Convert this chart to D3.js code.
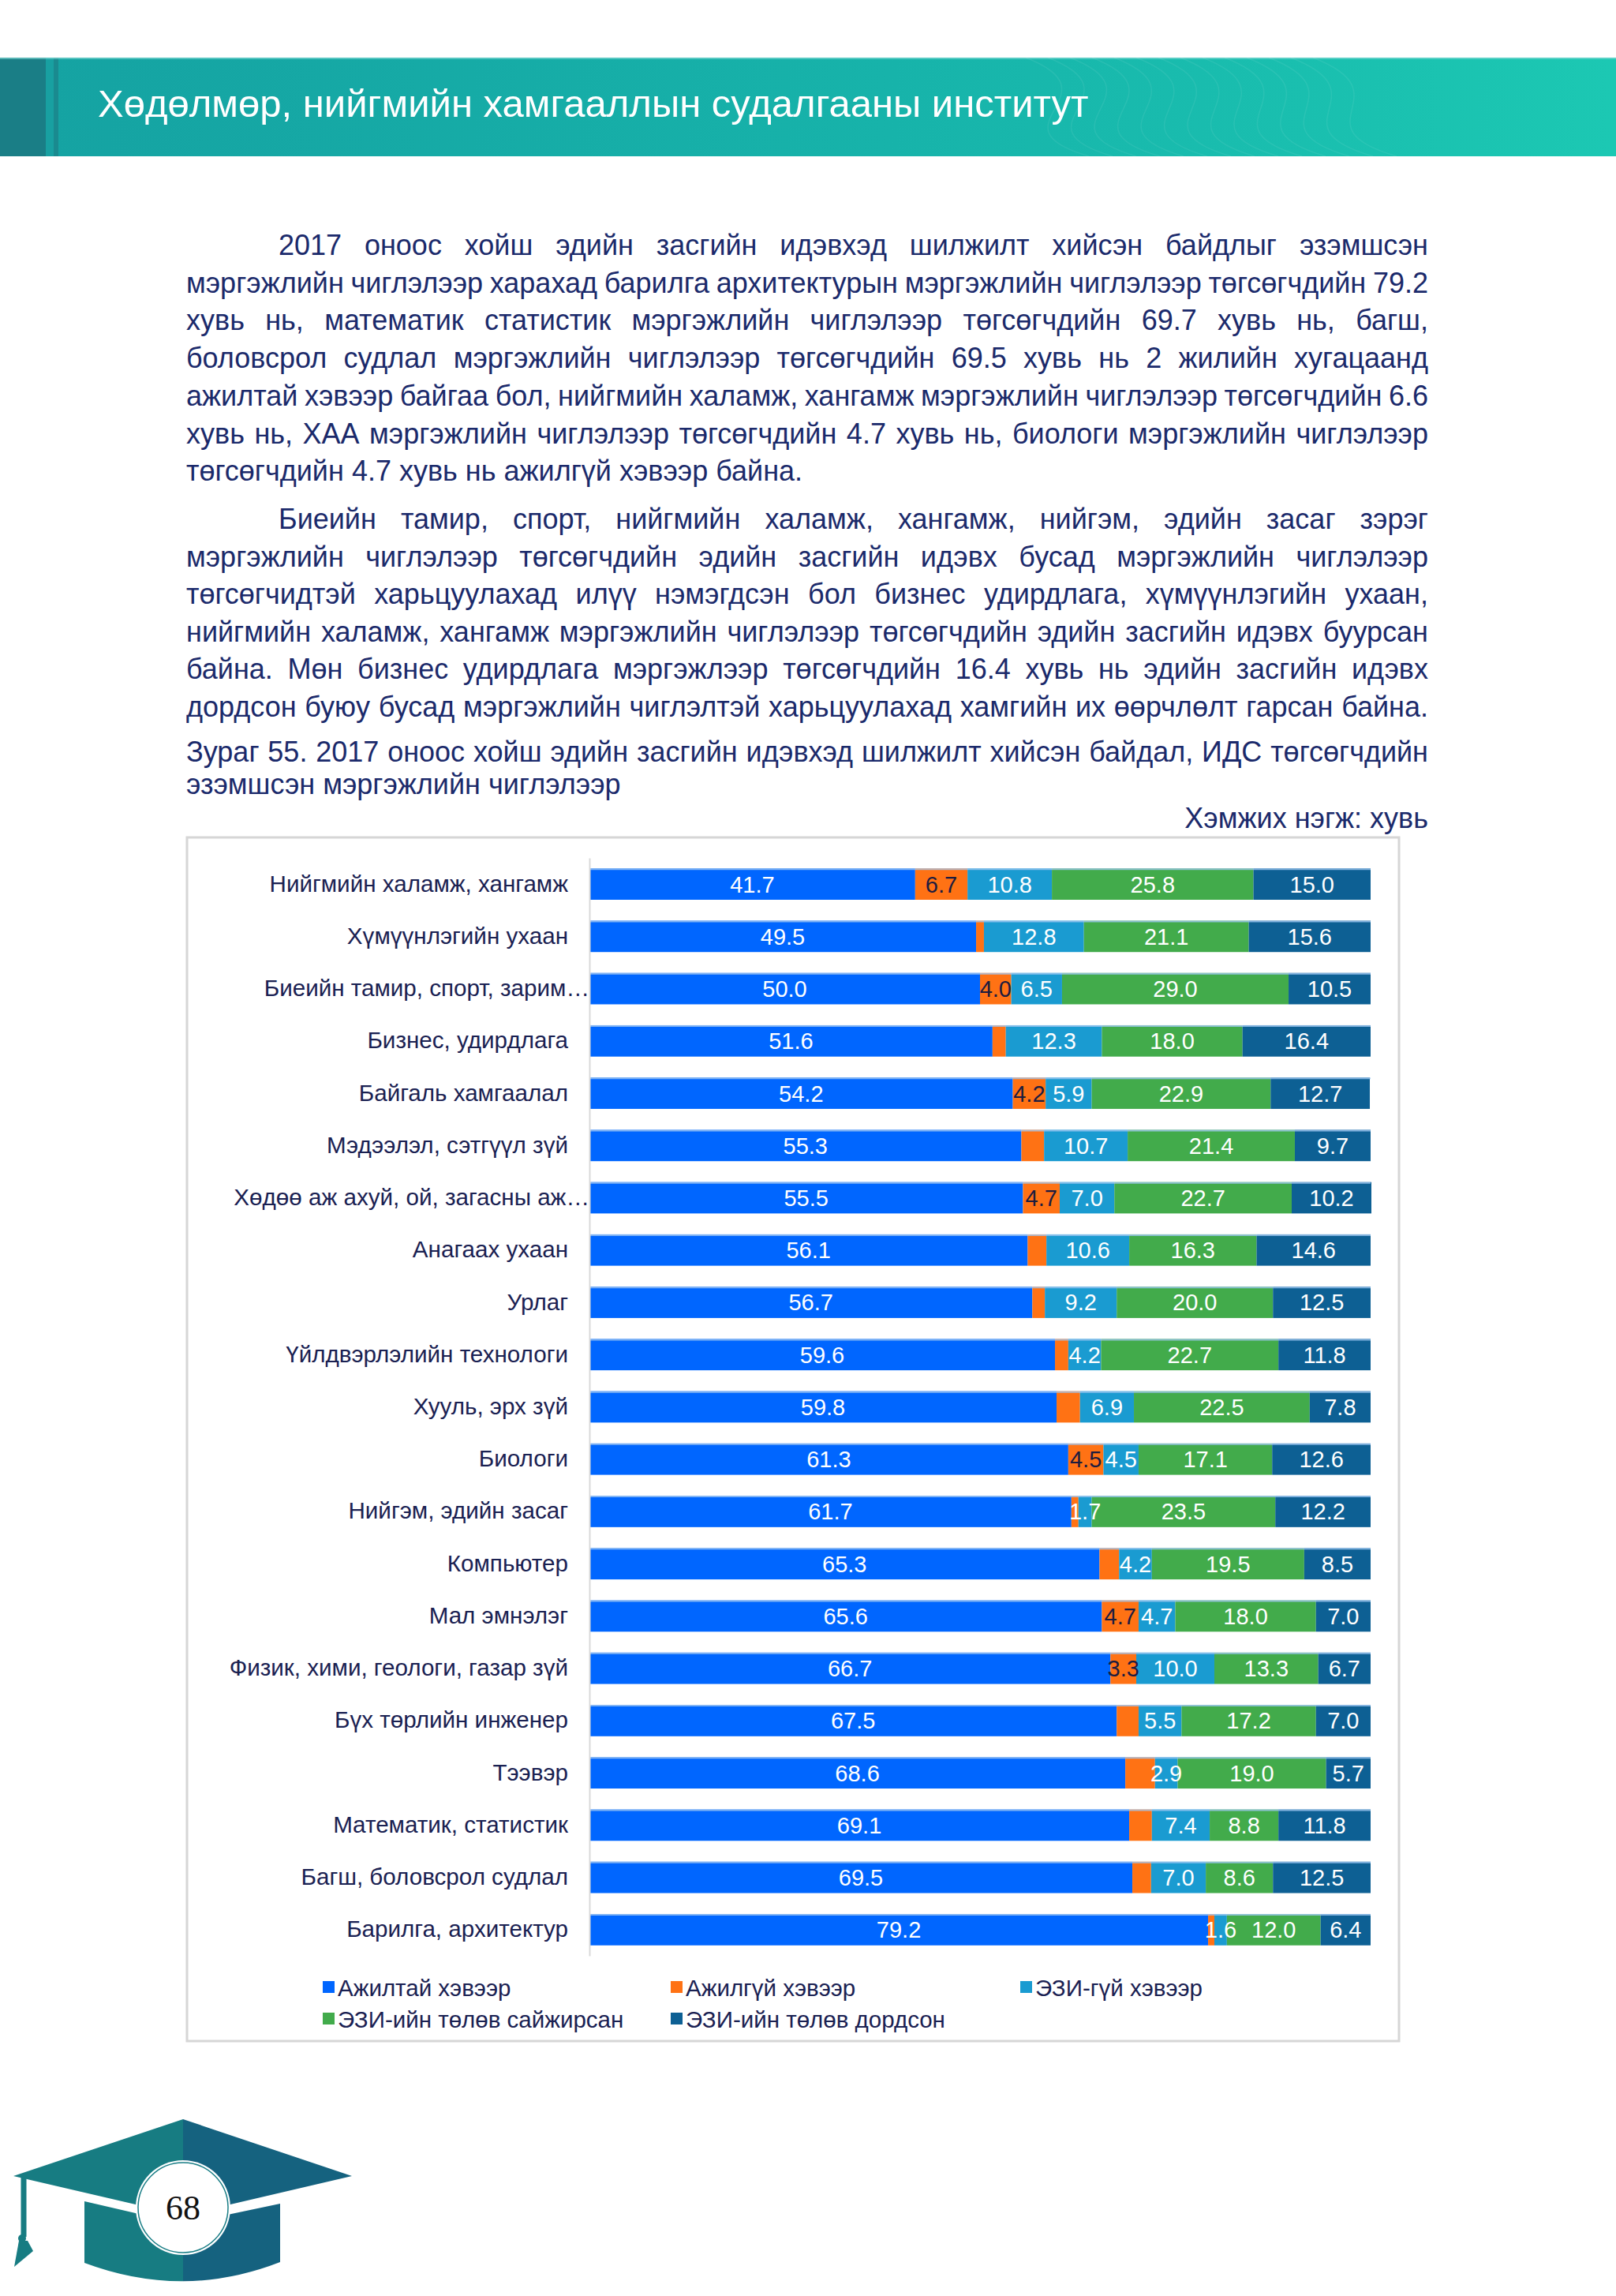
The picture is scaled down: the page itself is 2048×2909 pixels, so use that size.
<!DOCTYPE html>
<html>
<head>
<meta charset="utf-8">
<script src="https://cdn.jsdelivr.net/npm/d3@7"></script>
<style>
  body { margin: 0; background: #fff; }
  svg { display: block; font-family: "Liberation Sans", Arial, sans-serif; }
</style>
</head>
<body>
<svg id="page"></svg>
<script>
// Data
var categories = [
  "Нийгмийн халамж, хангамж", "Хүмүүнлэгийн ухаан", "Биеийн тамир, спорт, зарим…",
  "Бизнес, удирдлага", "Байгаль хамгаалал", "Мэдээлэл, сэтгүүл зүй",
  "Хөдөө аж ахуй, ой, загасны аж…", "Анагаах ухаан", "Урлаг",
  "Үйлдвэрлэлийн технологи", "Хууль, эрх зүй", "Биологи", "Нийгэм, эдийн засаг",
  "Компьютер", "Мал эмнэлэг", "Физик, хими, геологи, газар зүй",
  "Бүх төрлийн инженер", "Тээвэр", "Математик, статистик",
  "Багш, боловсрол судлал", "Барилга, архитектур"
];
var ajiltai   = [41.7, 49.5, 50.0, 51.6, 54.2, 55.3, 55.5, 56.1, 56.7, 59.6, 59.8, 61.3, 61.7, 65.3, 65.6, 66.7, 67.5, 68.6, 69.1, 69.5, 79.2];
var ajilgui   = [6.7, 1.0, 4.0, 1.7, 4.2, 2.9, 4.7, 2.4, 1.6, 1.7, 3.0, 4.5, 0.9, 2.5, 4.7, 3.3, 2.8, 3.8, 2.9, 2.4, 0.8];
var ajilguiLabeled = [true, false, true, false, true, false, true, false, false, false, false, true, false, false, true, true, false, false, false, false, false];
var ezigui    = [10.8, 12.8, 6.5, 12.3, 5.9, 10.7, 7.0, 10.6, 9.2, 4.2, 6.9, 4.5, 1.7, 4.2, 4.7, 10.0, 5.5, 2.9, 7.4, 7.0, 1.6];
var saijirsan = [25.8, 21.1, 29.0, 18.0, 22.9, 21.4, 22.7, 16.3, 20.0, 22.7, 22.5, 17.1, 23.5, 19.5, 18.0, 13.3, 17.2, 19.0, 8.8, 8.6, 12.0];
var dordson   = [15.0, 15.6, 10.5, 16.4, 12.7, 9.7, 10.2, 14.6, 12.5, 11.8, 7.8, 12.6, 12.2, 8.5, 7.0, 6.7, 7.0, 5.7, 11.8, 12.5, 6.4];

var seriesKeys = ["ajiltai", "ajilgui", "ezigui", "saijirsan", "dordson"];
var seriesNames = ["Ажилтай хэвээр", "Ажилгүй хэвээр", "ЭЗИ-гүй хэвээр", "ЭЗИ-ийн төлөв сайжирсан", "ЭЗИ-ийн төлөв дордсон"];
var seriesColors = ["#0066ff", "#ff7214", "#1a9bd1", "#42ab4b", "#0d6094"];

var para1 = [
  "2017 оноос хойш эдийн засгийн идэвхэд шилжилт хийсэн байдлыг эзэмшсэн",
  "мэргэжлийн чиглэлээр харахад барилга архитектурын мэргэжлийн чиглэлээр төгсөгчдийн 79.2",
  "хувь нь, математик статистик мэргэжлийн чиглэлээр төгсөгчдийн 69.7 хувь нь, багш,",
  "боловсрол судлал мэргэжлийн чиглэлээр төгсөгчдийн 69.5 хувь нь 2 жилийн хугацаанд",
  "ажилтай хэвээр байгаа бол, нийгмийн халамж, хангамж мэргэжлийн чиглэлээр төгсөгчдийн 6.6",
  "хувь нь, ХАА мэргэжлийн чиглэлээр төгсөгчдийн 4.7 хувь нь, биологи мэргэжлийн чиглэлээр",
  "төгсөгчдийн 4.7 хувь нь ажилгүй хэвээр байна."
];
var para2 = [
  "Биеийн тамир, спорт, нийгмийн халамж, хангамж, нийгэм, эдийн засаг зэрэг",
  "мэргэжлийн чиглэлээр төгсөгчдийн эдийн засгийн идэвх бусад мэргэжлийн чиглэлээр",
  "төгсөгчидтэй харьцуулахад илүү нэмэгдсэн бол бизнес удирдлага, хүмүүнлэгийн ухаан,",
  "нийгмийн халамж, хангамж мэргэжлийн чиглэлээр төгсөгчдийн эдийн засгийн идэвх буурсан",
  "байна. Мөн бизнес удирдлага мэргэжлээр төгсөгчдийн 16.4 хувь нь эдийн засгийн идэвх",
  "дордсон буюу бусад мэргэжлийн чиглэлтэй харьцуулахад хамгийн их өөрчлөлт гарсан байна."
];
var caption = [
  "Зураг 55. 2017 оноос хойш эдийн засгийн идэвхэд шилжилт хийсэн байдал, ИДС төгсөгчдийн",
  "эзэмшсэн мэргэжлийн чиглэлээр"
];
var unitLabel = "Хэмжих нэгж: хувь";
var headerTitle = "Хөдөлмөр, нийгмийн хамгааллын судалгааны институт";
var pageNumber = "68";

// Setup
var W = 2048, H = 2909;
var textColor = "#1b2a6b",
    labelColor = "#1a2152";

var svg = d3.select("#page").attr("width", W).attr("height", H);
svg.append("rect").attr("width", W).attr("height", H).attr("fill", "#fff");

var defs = svg.append("defs");
var grad = defs.append("linearGradient").attr("id", "hdr").attr("x1", "0").attr("x2", "1");
grad.append("stop").attr("offset", "0").attr("stop-color", "#15a2a2");
grad.append("stop").attr("offset", "0.55").attr("stop-color", "#17b3aa");
grad.append("stop").attr("offset", "1").attr("stop-color", "#1cc8b3");

// Header band
var header = svg.append("g");
header.append("rect").attr("x", 0).attr("y", 73).attr("width", W).attr("height", 125).attr("fill", "url(#hdr)");
header.append("rect").attr("x", 0).attr("y", 73).attr("width", 58).attr("height", 125).attr("fill", "#1a7e86");
header.append("rect").attr("x", 58).attr("y", 73).attr("width", 10).attr("height", 125).attr("fill", "#18a0a1");
header.append("rect").attr("x", 68).attr("y", 73).attr("width", 6).attr("height", 125).attr("fill", "#1a8a8f");
header.append("line").attr("x1", 0).attr("x2", W).attr("y1", 74).attr("y2", 74)
    .attr("stroke", "#7fd8d3").attr("stroke-width", 2).attr("opacity", 0.6);
// faint wave lines in the band
for (var k = 0; k < 14; k++) {
  header.append("path")
      .attr("d", "M" + (1300 + k * 28) + ",73 C" + (1420 + k * 28) + ",120 " + (1250 + k * 30) + ",160 " + (1380 + k * 30) + ",198")
      .attr("fill", "none").attr("stroke", "#ffffff").attr("stroke-opacity", 0.07).attr("stroke-width", 1.5);
}
header.append("text").attr("x", 124).attr("y", 148)
    .attr("fill", "#fff").attr("font-size", 49)
    .text(headerTitle);

// Justified paragraph lines
function drawLine(str, x0, x1, y, justify, size) {
  var g = svg.append("g").attr("fill", textColor).attr("font-size", size);
  var words = str.split(" ");
  var t = g.selectAll(null).data(words).enter().append("text").attr("y", y).text(function(d){ return d; });
  var widths = [];
  t.each(function(){ widths.push(this.getComputedTextLength()); });
  var gap = (justify && words.length > 1) ? (x1 - x0 - d3.sum(widths)) / (words.length - 1) : size * 0.278;
  var cx = x0;
  t.attr("x", function(d, i){ var v = cx; cx += widths[i] + gap; return v; });
}

var textLeft = 236, textRight = 1810, indent = 353, fs = 36;
para1.forEach(function(s, i){
  drawLine(s, i === 0 ? indent : textLeft, textRight, 323 + i * 47.7, i < para1.length - 1, fs);
});
para2.forEach(function(s, i){
  drawLine(s, i === 0 ? indent : textLeft, textRight, 670 + i * 47.5, true, fs);
});
caption.forEach(function(s, i){
  drawLine(s, textLeft, textRight, 965 + i * 41, i === 0, fs);
});
svg.append("text").attr("x", textRight).attr("y", 1049).attr("text-anchor", "end")
    .attr("fill", textColor).attr("font-size", fs).text(unitLabel);

// Chart frame
svg.append("rect").attr("x", 237).attr("y", 1061).attr("width", 1536).attr("height", 1525)
    .attr("fill", "#fff").attr("stroke", "#d6d6d6").attr("stroke-width", 3);

// Scales
var x = d3.scaleLinear().domain([0, 100]).range([747, 1737]);
var y = d3.scaleBand().domain(categories).range([1087, 2478]).paddingInner(0.4).paddingOuter(0.2);

var rows = categories.map(function(c, i){
  return { cat: c, idx: i, ajiltai: ajiltai[i], ajilgui: ajilgui[i], ezigui: ezigui[i], saijirsan: saijirsan[i], dordson: dordson[i] };
});
var stacked = d3.stack().keys(seriesKeys)(rows);

var chart = svg.append("g");

var layers = chart.selectAll("g.layer").data(stacked).enter().append("g")
    .attr("class", "layer")
    .attr("fill", function(d, i){ return seriesColors[i]; });

layers.selectAll("rect").data(function(d){ return d; }).enter().append("rect")
    .attr("x", function(d){ return x(d[0]); })
    .attr("y", function(d){ return y(d.data.cat); })
    .attr("width", function(d){ return x(d[1]) - x(d[0]); })
    .attr("height", y.bandwidth());

// top highlight of the bars
chart.selectAll("line.hl").data(rows).enter().append("line")
    .attr("x1", x(0)).attr("x2", x(100))
    .attr("y1", function(d){ return y(d.cat) + 1; })
    .attr("y2", function(d){ return y(d.cat) + 1; })
    .attr("stroke", "#9fc7f2").attr("stroke-width", 2).attr("opacity", 0.8);

// Y axis
var axisY = d3.axisLeft(y).tickSize(0).tickPadding(27);
var gy = chart.append("g").attr("transform", "translate(" + x(0) + ",0)").call(axisY);
gy.select(".domain").attr("stroke", "#d9d9d9").attr("stroke-width", 2);
gy.selectAll("text")
    .attr("font-size", 29.6).attr("fill", labelColor)
    .style("font-family", '"Liberation Sans", Arial, sans-serif')
    .attr("x", function(d){ return d.slice(-1) === "…" ? 0 : -27; });

// Data labels (on top of all segments)
var fmt = d3.format(".1f");
var labelG = chart.append("g").attr("text-anchor", "middle").attr("font-size", 29);
stacked.forEach(function(layer, si){
  labelG.append("g").selectAll("text").data(layer.filter(function(d){
      return si !== 1 || ajilguiLabeled[d.data.idx];
    })).enter().append("text")
      .attr("x", function(d){ return (x(d[0]) + x(d[1])) / 2; })
      .attr("y", function(d){ return y(d.data.cat) + y.bandwidth() / 2; })
      .attr("dy", "0.36em")
      .attr("fill", si === 1 ? "#1c1c40" : "#ffffff")
      .text(function(d){ return fmt(d[1] - d[0]); });
});

// Legend
var legendX = [409, 850, 1293];
var legend = chart.selectAll("g.legend").data(seriesNames).enter().append("g")
    .attr("class", "legend")
    .attr("transform", function(d, i){
      return "translate(" + legendX[i % 3] + "," + (2518 + Math.floor(i / 3) * 40) + ")";
    });
legend.append("rect").attr("x", 0).attr("y", -8).attr("width", 15).attr("height", 15)
    .attr("fill", function(d, i){ return seriesColors[i]; });
legend.append("text").attr("x", 19).attr("y", 0).attr("dy", "0.36em")
    .attr("font-size", 29.5).attr("fill", labelColor).text(function(d){ return d; });

// Footer: graduation cap with page number
var cap = svg.append("g");
var clipL = defs.append("clipPath").attr("id", "capL");
clipL.append("rect").attr("x", 0).attr("y", 2600).attr("width", 232).attr("height", 309);
var clipR = defs.append("clipPath").attr("id", "capR");
clipR.append("rect").attr("x", 232).attr("y", 2600).attr("width", 300).attr("height", 309);
var capShape = "M17,2757 L232,2685 L446,2757 L232,2807 Z M107,2789 L232,2818 L355,2792 L355,2866 Q232,2914 107,2867 Z";
cap.append("path").attr("d", capShape).attr("fill", "#177c82").attr("clip-path", "url(#capL)");
cap.append("path").attr("d", capShape).attr("fill", "#15627f").attr("clip-path", "url(#capR)");
cap.append("line").attr("x1", 30).attr("x2", 30).attr("y1", 2758).attr("y2", 2834)
    .attr("stroke", "#177c82").attr("stroke-width", 7);
cap.append("circle").attr("cx", 28).attr("cy", 2836).attr("r", 5).attr("fill", "#177c82");
cap.append("path").attr("d", "M24,2839 L35,2839 L42,2852 L18,2872 Z").attr("fill", "#177c82");
cap.append("circle").attr("cx", 232).attr("cy", 2797).attr("r", 60).attr("fill", "#fff");
cap.append("circle").attr("cx", 232).attr("cy", 2797).attr("r", 57).attr("fill", "none")
    .attr("stroke", "#1a7e86").attr("stroke-width", 1.5);
cap.append("text").attr("x", 232).attr("y", 2812).attr("text-anchor", "middle")
    .attr("font-size", 44).attr("fill", "#111")
    .style("font-family", '"Liberation Serif", "DejaVu Serif", serif')
    .text(pageNumber);
</script>
</body>
</html>
